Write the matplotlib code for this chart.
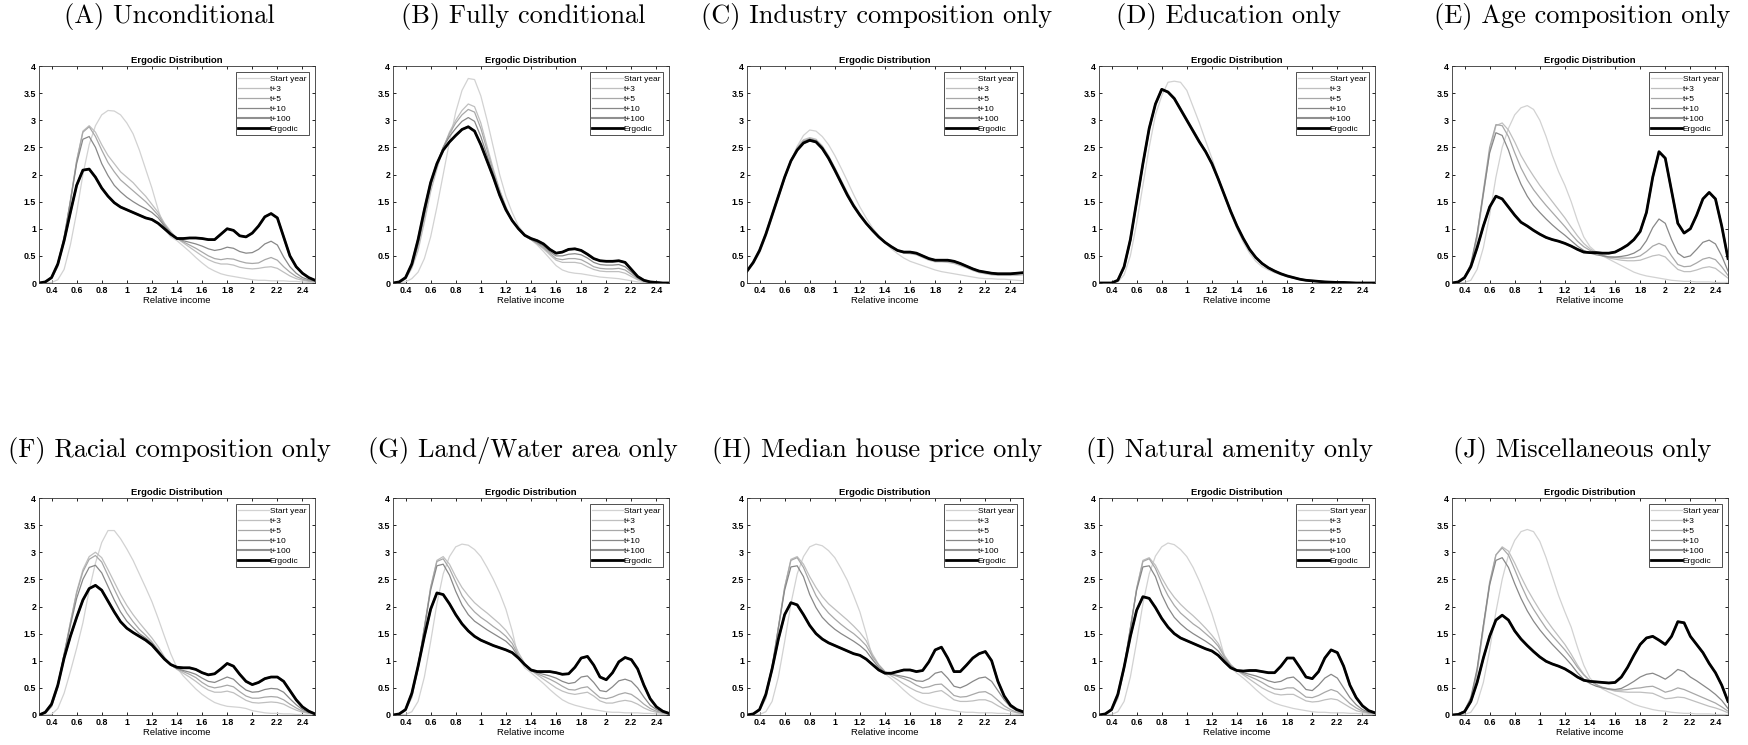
import matplotlib
matplotlib.use("Agg")
import matplotlib.pyplot as plt
from matplotlib.ticker import FormatStrFormatter

# relative income grid (x values shared by every curve)
income = [0.30, 0.35, 0.40, 0.45, 0.50, 0.55, 0.60, 0.65, 0.70, 0.75,
          0.80, 0.85, 0.90, 0.95, 1.00, 1.05, 1.10, 1.15, 1.20, 1.25,
          1.30, 1.35, 1.40, 1.45, 1.50, 1.55, 1.60, 1.65, 1.70, 1.75,
          1.80, 1.85, 1.90, 1.95, 2.00, 2.05, 2.10, 2.15, 2.20, 2.25,
          2.30, 2.35, 2.40, 2.45, 2.50]

legend_labels = ["Start year", "t+3", "t+5", "t+10", "t+100", "Ergodic"]

panel_titles = ["(A) Unconditional", "(B) Fully conditional", "(C) Industry composition only",
                "(D) Education only", "(E) Age composition only", "(F) Racial composition only",
                "(G) Land/Water area only", "(H) Median house price only",
                "(I) Natural amenity only", "(J) Miscellaneous only"]

# ---- (A) Unconditional
start_a = [0, 0, 0.01, 0.06, 0.25, 0.7, 1.3, 2.0, 2.55, 2.9, 3.1, 3.18, 3.17, 3.1, 2.95,
           2.75, 2.45, 2.1, 1.75, 1.35, 1.0, 0.85, 0.78, 0.68, 0.58, 0.47, 0.37, 0.28, 0.22, 0.17,
           0.14, 0.12, 0.1, 0.08, 0.06, 0.05, 0.05, 0.04, 0.04, 0.04, 0.03, 0.03, 0.02, 0.01, 0.01]
t3_a = [0, 0.01, 0.08, 0.3, 0.8, 1.5, 2.25, 2.8, 2.9, 2.78, 2.55, 2.35, 2.2, 2.05, 1.95,
        1.85, 1.72, 1.6, 1.45, 1.3, 1.1, 0.95, 0.82, 0.74, 0.66, 0.58, 0.5, 0.43, 0.38, 0.35,
        0.35, 0.33, 0.29, 0.27, 0.26, 0.27, 0.29, 0.3, 0.27, 0.2, 0.13, 0.08, 0.05, 0.03, 0.02]
t5_a = [0, 0.01, 0.09, 0.32, 0.82, 1.52, 2.25, 2.78, 2.88, 2.7, 2.45, 2.22, 2.05, 1.9, 1.8,
        1.7, 1.6, 1.5, 1.38, 1.25, 1.08, 0.93, 0.82, 0.76, 0.7, 0.64, 0.57, 0.5, 0.45, 0.43,
        0.45, 0.44, 0.4, 0.37, 0.36, 0.37, 0.43, 0.47, 0.42, 0.3, 0.2, 0.12, 0.07, 0.04, 0.03]
t10_a = [0, 0.02, 0.1, 0.35, 0.85, 1.5, 2.2, 2.65, 2.7, 2.5, 2.2, 1.98, 1.8, 1.68, 1.58,
         1.5, 1.43, 1.37, 1.3, 1.2, 1.05, 0.92, 0.82, 0.78, 0.75, 0.72, 0.68, 0.63, 0.6, 0.62,
         0.66, 0.64, 0.58, 0.55, 0.56, 0.62, 0.72, 0.77, 0.7, 0.48, 0.3, 0.18, 0.1, 0.06, 0.04]
erg_a = [0, 0.02, 0.1, 0.35, 0.78, 1.3, 1.8, 2.08, 2.1, 1.95, 1.75, 1.6, 1.48, 1.4, 1.35,
         1.3, 1.25, 1.2, 1.17, 1.1, 1.0, 0.9, 0.82, 0.82, 0.83, 0.83, 0.82, 0.8, 0.8, 0.9,
         1.0, 0.97, 0.87, 0.85, 0.92, 1.05, 1.22, 1.28, 1.2, 0.85, 0.5, 0.3, 0.18, 0.1, 0.05]

# ---- (B) Fully conditional
start_b = [0, 0.01, 0.02, 0.08, 0.2, 0.45, 0.85, 1.4, 2.0, 2.6, 3.15, 3.55, 3.77, 3.75, 3.45,
           3.0, 2.5, 2.0, 1.6, 1.3, 1.05, 0.9, 0.8, 0.7, 0.58, 0.45, 0.32, 0.24, 0.2, 0.18,
           0.17, 0.15, 0.13, 0.11, 0.1, 0.09, 0.08, 0.06, 0.04, 0.02, 0.01, 0, 0, 0, 0]
t3_b = [0, 0.01, 0.07, 0.27, 0.6, 1.12, 1.68, 2.1, 2.48, 2.78, 3.0, 3.18, 3.3, 3.25, 2.95,
        2.52, 2.1, 1.72, 1.4, 1.15, 1.0, 0.87, 0.8, 0.72, 0.63, 0.52, 0.42, 0.38, 0.38, 0.38,
        0.36, 0.3, 0.25, 0.22, 0.21, 0.21, 0.21, 0.18, 0.12, 0.06, 0.02, 0.01, 0, 0, 0]
t5_b = [0, 0.02, 0.08, 0.3, 0.68, 1.22, 1.77, 2.17, 2.5, 2.75, 2.95, 3.1, 3.2, 3.15, 2.85,
        2.45, 2.05, 1.7, 1.4, 1.15, 1.0, 0.87, 0.8, 0.73, 0.65, 0.55, 0.45, 0.43, 0.45, 0.45,
        0.43, 0.37, 0.3, 0.27, 0.26, 0.26, 0.27, 0.24, 0.16, 0.08, 0.03, 0.01, 0, 0, 0]
t10_b = [0, 0.02, 0.09, 0.32, 0.75, 1.3, 1.82, 2.2, 2.5, 2.7, 2.85, 2.98, 3.05, 2.98, 2.7,
         2.35, 2.0, 1.65, 1.37, 1.15, 1.0, 0.87, 0.8, 0.75, 0.68, 0.58, 0.5, 0.5, 0.53, 0.54,
         0.52, 0.46, 0.38, 0.34, 0.33, 0.33, 0.34, 0.3, 0.2, 0.1, 0.04, 0.02, 0.01, 0, 0]
erg_b = [0, 0.02, 0.1, 0.35, 0.8, 1.35, 1.85, 2.2, 2.45, 2.6, 2.72, 2.83, 2.88, 2.8, 2.55,
         2.25, 1.95, 1.62, 1.35, 1.15, 1.0, 0.88, 0.82, 0.78, 0.72, 0.62, 0.55, 0.57, 0.62, 0.63,
         0.6, 0.53, 0.45, 0.41, 0.4, 0.4, 0.41, 0.38, 0.25, 0.12, 0.05, 0.02, 0.01, 0, 0]

# ---- (C) Industry composition only
start_c = [0.2, 0.35, 0.55, 0.85, 1.2, 1.55, 1.92, 2.25, 2.52, 2.72, 2.82, 2.8, 2.7, 2.55, 2.35,
           2.12, 1.88, 1.63, 1.4, 1.2, 1.02, 0.87, 0.74, 0.63, 0.54, 0.46, 0.4, 0.36, 0.32, 0.28,
           0.24, 0.21, 0.19, 0.17, 0.15, 0.13, 0.11, 0.09, 0.08, 0.08, 0.07, 0.07, 0.06, 0.05, 0.04]
t3_c = [0.21, 0.37, 0.58, 0.88, 1.23, 1.58, 1.94, 2.26, 2.5, 2.64, 2.68, 2.65, 2.53, 2.35, 2.13,
        1.9, 1.67, 1.46, 1.28, 1.12, 0.98, 0.86, 0.75, 0.66, 0.59, 0.55, 0.54, 0.52, 0.47, 0.42,
        0.39, 0.39, 0.38, 0.36, 0.32, 0.28, 0.23, 0.19, 0.17, 0.15, 0.14, 0.14, 0.14, 0.14, 0.15]
t5_c = [0.21, 0.37, 0.59, 0.89, 1.24, 1.59, 1.94, 2.25, 2.48, 2.62, 2.66, 2.63, 2.51, 2.33, 2.11,
        1.88, 1.65, 1.44, 1.27, 1.11, 0.98, 0.86, 0.75, 0.67, 0.6, 0.56, 0.56, 0.54, 0.49, 0.44,
        0.41, 0.41, 0.4, 0.38, 0.34, 0.3, 0.25, 0.21, 0.19, 0.17, 0.16, 0.16, 0.16, 0.17, 0.18]
t10_c = [0.22, 0.38, 0.6, 0.9, 1.25, 1.6, 1.95, 2.25, 2.46, 2.6, 2.65, 2.62, 2.5, 2.32, 2.1,
         1.87, 1.64, 1.43, 1.26, 1.1, 0.97, 0.85, 0.75, 0.67, 0.6, 0.57, 0.57, 0.55, 0.5, 0.45,
         0.42, 0.42, 0.41, 0.39, 0.35, 0.31, 0.26, 0.22, 0.2, 0.18, 0.17, 0.17, 0.17, 0.18, 0.19]
erg_c = [0.22, 0.38, 0.6, 0.9, 1.25, 1.6, 1.95, 2.25, 2.45, 2.58, 2.63, 2.6, 2.48, 2.3, 2.08,
         1.85, 1.62, 1.42, 1.25, 1.1, 0.97, 0.85, 0.75, 0.67, 0.6, 0.57, 0.57, 0.55, 0.5, 0.45,
         0.42, 0.42, 0.42, 0.4, 0.36, 0.31, 0.26, 0.22, 0.2, 0.18, 0.17, 0.17, 0.17, 0.18, 0.19]

# ---- (D) Education only
start_d = [0, 0, 0, 0.02, 0.15, 0.5, 1.1, 1.8, 2.5, 3.1, 3.45, 3.7, 3.72, 3.7, 3.55,
           3.25, 2.95, 2.62, 2.3, 1.95, 1.6, 1.28, 1.0, 0.75, 0.55, 0.4, 0.3, 0.24, 0.19, 0.15,
           0.12, 0.09, 0.07, 0.05, 0.04, 0.03, 0.02, 0.02, 0.01, 0.01, 0.01, 0, 0, 0, 0]
t3_d = [0, 0, 0, 0.04, 0.26, 0.75, 1.45, 2.15, 2.8, 3.28, 3.56, 3.53, 3.42, 3.23, 3.03,
        2.83, 2.63, 2.44, 2.22, 1.93, 1.62, 1.31, 1.04, 0.81, 0.61, 0.46, 0.35, 0.27, 0.21, 0.16,
        0.12, 0.09, 0.07, 0.05, 0.04, 0.03, 0.02, 0.015, 0.01, 0.01, 0.005, 0, 0, 0, 0]
t5_d = [0, 0, 0, 0.05, 0.28, 0.78, 1.48, 2.18, 2.83, 3.29, 3.56, 3.52, 3.41, 3.21, 3.01,
        2.81, 2.61, 2.43, 2.21, 1.92, 1.62, 1.32, 1.05, 0.82, 0.62, 0.47, 0.36, 0.28, 0.22, 0.17,
        0.13, 0.1, 0.07, 0.05, 0.04, 0.03, 0.02, 0.015, 0.01, 0.01, 0.005, 0, 0, 0, 0]
t10_d = [0, 0, 0, 0.05, 0.3, 0.8, 1.5, 2.2, 2.85, 3.3, 3.57, 3.52, 3.4, 3.2, 3.0,
         2.8, 2.6, 2.42, 2.2, 1.92, 1.62, 1.32, 1.05, 0.82, 0.62, 0.47, 0.36, 0.28, 0.22, 0.17,
         0.13, 0.1, 0.07, 0.05, 0.04, 0.03, 0.02, 0.015, 0.01, 0.01, 0.005, 0, 0, 0, 0]
erg_d = [0, 0, 0, 0.05, 0.3, 0.8, 1.5, 2.2, 2.85, 3.3, 3.57, 3.52, 3.4, 3.2, 3.0,
         2.8, 2.6, 2.42, 2.2, 1.92, 1.62, 1.32, 1.05, 0.82, 0.62, 0.47, 0.36, 0.28, 0.22, 0.17,
         0.13, 0.1, 0.07, 0.05, 0.04, 0.03, 0.02, 0.015, 0.01, 0.01, 0.005, 0, 0, 0, 0]

# ---- (E) Age composition only
start_e = [0, 0, 0.01, 0.05, 0.25, 0.65, 1.25, 1.95, 2.5, 2.85, 3.1, 3.23, 3.27, 3.2, 3.0,
           2.7, 2.35, 2.05, 1.8, 1.5, 1.15, 0.85, 0.67, 0.57, 0.5, 0.44, 0.38, 0.32, 0.26, 0.2,
           0.16, 0.13, 0.11, 0.09, 0.07, 0.05, 0.04, 0.03, 0.03, 0.02, 0.02, 0.02, 0.01, 0.01, 0.01]
t3_e = [0, 0.01, 0.07, 0.28, 0.82, 1.62, 2.42, 2.9, 2.95, 2.82, 2.6, 2.35, 2.15, 1.97, 1.8,
        1.65, 1.5, 1.35, 1.2, 1.03, 0.87, 0.73, 0.63, 0.56, 0.5, 0.46, 0.44, 0.42, 0.41, 0.41,
        0.42, 0.46, 0.5, 0.52, 0.48, 0.36, 0.25, 0.21, 0.21, 0.24, 0.28, 0.3, 0.27, 0.18, 0.09]
t5_e = [0, 0.01, 0.08, 0.32, 0.88, 1.7, 2.5, 2.92, 2.9, 2.7, 2.4, 2.12, 1.9, 1.72, 1.57,
        1.43, 1.3, 1.17, 1.04, 0.9, 0.77, 0.67, 0.6, 0.55, 0.51, 0.48, 0.47, 0.46, 0.46, 0.47,
        0.5, 0.58, 0.68, 0.73, 0.68, 0.5, 0.34, 0.3, 0.31, 0.37, 0.44, 0.47, 0.43, 0.3, 0.14]
t10_e = [0, 0.02, 0.1, 0.35, 0.9, 1.65, 2.4, 2.77, 2.72, 2.45, 2.1, 1.82, 1.6, 1.43, 1.3,
         1.18, 1.07, 0.97, 0.88, 0.78, 0.68, 0.6, 0.55, 0.52, 0.5, 0.48, 0.48, 0.49, 0.51, 0.55,
         0.62, 0.78, 1.02, 1.18, 1.1, 0.8, 0.55, 0.47, 0.5, 0.62, 0.75, 0.79, 0.72, 0.5, 0.22]
erg_e = [0, 0.02, 0.1, 0.3, 0.65, 1.05, 1.4, 1.6, 1.55, 1.4, 1.25, 1.12, 1.05, 0.97, 0.9,
         0.84, 0.8, 0.77, 0.73, 0.68, 0.62, 0.57, 0.56, 0.56, 0.55, 0.55, 0.57, 0.63, 0.7, 0.8,
         0.95, 1.3, 1.95, 2.42, 2.3, 1.7, 1.1, 0.92, 1.0, 1.25, 1.55, 1.67, 1.55, 1.05, 0.45]

# ---- (F) Racial composition only
start_f = [0, 0, 0.01, 0.12, 0.4, 0.8, 1.23, 1.7, 2.3, 2.8, 3.18, 3.4, 3.4, 3.25, 3.06,
           2.85, 2.6, 2.35, 2.09, 1.78, 1.45, 1.13, 0.87, 0.72, 0.6, 0.48, 0.38, 0.3, 0.23, 0.19,
           0.16, 0.15, 0.14, 0.12, 0.08, 0.06, 0.04, 0.03, 0.03, 0.02, 0.02, 0.01, 0.01, 0, 0]
t3_f = [0, 0.03, 0.15, 0.5, 1.1, 1.7, 2.27, 2.68, 2.92, 3.0, 2.9, 2.68, 2.45, 2.22, 2.02,
        1.85, 1.7, 1.56, 1.42, 1.26, 1.07, 0.93, 0.84, 0.77, 0.7, 0.62, 0.53, 0.46, 0.42, 0.42,
        0.44, 0.41, 0.34, 0.27, 0.23, 0.22, 0.23, 0.24, 0.23, 0.2, 0.14, 0.09, 0.05, 0.03, 0.01]
t5_f = [0, 0.03, 0.16, 0.52, 1.12, 1.7, 2.25, 2.64, 2.87, 2.94, 2.82, 2.57, 2.32, 2.08, 1.88,
        1.72, 1.58, 1.47, 1.35, 1.2, 1.04, 0.92, 0.85, 0.8, 0.75, 0.69, 0.6, 0.53, 0.5, 0.52,
        0.55, 0.52, 0.43, 0.35, 0.31, 0.31, 0.33, 0.34, 0.33, 0.28, 0.2, 0.13, 0.07, 0.04, 0.02]
t10_f = [0, 0.04, 0.17, 0.55, 1.12, 1.65, 2.15, 2.5, 2.72, 2.76, 2.62, 2.37, 2.12, 1.9, 1.73,
         1.61, 1.5, 1.42, 1.32, 1.18, 1.03, 0.92, 0.86, 0.82, 0.79, 0.75, 0.68, 0.62, 0.6, 0.65,
         0.7, 0.66, 0.55, 0.46, 0.42, 0.43, 0.47, 0.49, 0.48, 0.42, 0.3, 0.19, 0.1, 0.05, 0.02]
erg_f = [0, 0.05, 0.2, 0.55, 1.05, 1.45, 1.8, 2.12, 2.33, 2.39, 2.3, 2.1, 1.9, 1.72, 1.6,
         1.52, 1.45, 1.38, 1.29, 1.16, 1.03, 0.93, 0.88, 0.87, 0.87, 0.84, 0.78, 0.74, 0.76, 0.85,
         0.95, 0.9, 0.75, 0.62, 0.56, 0.6, 0.67, 0.7, 0.7, 0.62, 0.45, 0.28, 0.15, 0.07, 0.02]

# ---- (G) Land/Water area only
start_g = [0, 0, 0.01, 0.06, 0.25, 0.7, 1.35, 2.05, 2.6, 2.92, 3.1, 3.15, 3.13, 3.05, 2.92,
           2.72, 2.5, 2.25, 1.95, 1.55, 1.05, 0.87, 0.78, 0.68, 0.58, 0.47, 0.37, 0.28, 0.22, 0.18,
           0.15, 0.12, 0.1, 0.08, 0.06, 0.05, 0.05, 0.04, 0.04, 0.04, 0.03, 0.03, 0.02, 0.01, 0.01]
t3_g = [0, 0.01, 0.08, 0.32, 0.85, 1.6, 2.35, 2.85, 2.92, 2.78, 2.55, 2.35, 2.2, 2.07, 1.97,
        1.88, 1.78, 1.68, 1.56, 1.4, 1.15, 0.95, 0.82, 0.74, 0.66, 0.58, 0.5, 0.44, 0.4, 0.38,
        0.4, 0.42, 0.35, 0.26, 0.22, 0.22, 0.25, 0.27, 0.25, 0.2, 0.13, 0.08, 0.05, 0.03, 0.02]
t5_g = [0, 0.01, 0.09, 0.34, 0.88, 1.62, 2.35, 2.83, 2.88, 2.7, 2.45, 2.2, 2.03, 1.9, 1.8,
        1.72, 1.63, 1.55, 1.45, 1.32, 1.1, 0.93, 0.82, 0.76, 0.71, 0.66, 0.6, 0.53, 0.47, 0.46,
        0.5, 0.52, 0.42, 0.32, 0.3, 0.33, 0.38, 0.41, 0.38, 0.3, 0.2, 0.12, 0.07, 0.04, 0.02]
t10_g = [0, 0.02, 0.1, 0.37, 0.9, 1.6, 2.3, 2.75, 2.78, 2.58, 2.28, 2.03, 1.85, 1.73, 1.65,
         1.57, 1.5, 1.43, 1.36, 1.25, 1.07, 0.92, 0.82, 0.78, 0.75, 0.72, 0.68, 0.62, 0.58, 0.6,
         0.7, 0.72, 0.6, 0.45, 0.43, 0.52, 0.63, 0.66, 0.62, 0.5, 0.33, 0.18, 0.1, 0.05, 0.02]
erg_g = [0, 0.02, 0.1, 0.4, 0.9, 1.45, 1.95, 2.25, 2.22, 2.05, 1.85, 1.68, 1.55, 1.45, 1.38,
         1.33, 1.28, 1.24, 1.2, 1.15, 1.05, 0.93, 0.83, 0.8, 0.8, 0.8, 0.78, 0.75, 0.76, 0.88,
         1.05, 1.08, 0.92, 0.7, 0.65, 0.78, 0.98, 1.06, 1.02, 0.85, 0.55, 0.3, 0.15, 0.07, 0.03]

# ---- (H) Median house price only
start_h = [0, 0, 0.01, 0.06, 0.25, 0.7, 1.35, 2.05, 2.6, 2.92, 3.1, 3.15, 3.12, 3.03, 2.9,
           2.7, 2.48, 2.2, 1.9, 1.5, 1.05, 0.85, 0.76, 0.67, 0.57, 0.46, 0.36, 0.28, 0.22, 0.18,
           0.15, 0.12, 0.1, 0.08, 0.06, 0.05, 0.05, 0.04, 0.04, 0.04, 0.03, 0.03, 0.02, 0.01, 0.01]
t3_h = [0, 0.01, 0.08, 0.3, 0.83, 1.6, 2.35, 2.87, 2.92, 2.78, 2.55, 2.35, 2.18, 2.05, 1.95,
        1.85, 1.75, 1.64, 1.52, 1.37, 1.12, 0.93, 0.8, 0.72, 0.65, 0.57, 0.5, 0.44, 0.4, 0.4,
        0.43, 0.45, 0.37, 0.28, 0.25, 0.25, 0.26, 0.28, 0.28, 0.24, 0.17, 0.11, 0.07, 0.04, 0.02]
t5_h = [0, 0.01, 0.09, 0.33, 0.86, 1.62, 2.35, 2.85, 2.9, 2.72, 2.45, 2.2, 2.02, 1.88, 1.77,
        1.67, 1.58, 1.5, 1.4, 1.28, 1.08, 0.92, 0.8, 0.75, 0.71, 0.67, 0.62, 0.55, 0.5, 0.52,
        0.56, 0.57, 0.47, 0.36, 0.33, 0.34, 0.38, 0.42, 0.43, 0.37, 0.27, 0.17, 0.1, 0.05, 0.03]
t10_h = [0, 0.02, 0.1, 0.36, 0.9, 1.6, 2.3, 2.73, 2.75, 2.55, 2.22, 1.98, 1.8, 1.68, 1.58,
         1.5, 1.43, 1.36, 1.28, 1.18, 1.02, 0.88, 0.78, 0.75, 0.73, 0.71, 0.68, 0.63, 0.62, 0.67,
         0.77, 0.8, 0.68, 0.53, 0.5, 0.55, 0.62, 0.68, 0.7, 0.62, 0.45, 0.28, 0.15, 0.08, 0.04]
erg_h = [0, 0.02, 0.1, 0.38, 0.85, 1.4, 1.85, 2.07, 2.03, 1.85, 1.65, 1.5, 1.4, 1.33, 1.28,
         1.23, 1.18, 1.13, 1.1, 1.03, 0.93, 0.83, 0.77, 0.77, 0.8, 0.83, 0.83, 0.8, 0.82, 0.98,
         1.2, 1.25, 1.05, 0.8, 0.8, 0.92, 1.05, 1.13, 1.17, 1.0, 0.62, 0.35, 0.18, 0.1, 0.06]

# ---- (I) Natural amenity only
start_i = [0, 0, 0.01, 0.06, 0.25, 0.7, 1.35, 2.05, 2.6, 2.93, 3.1, 3.17, 3.14, 3.05, 2.92,
           2.72, 2.47, 2.18, 1.87, 1.5, 1.08, 0.87, 0.77, 0.68, 0.58, 0.47, 0.37, 0.28, 0.22, 0.18,
           0.15, 0.12, 0.1, 0.08, 0.06, 0.05, 0.05, 0.04, 0.04, 0.04, 0.03, 0.03, 0.02, 0.01, 0.01]
t3_i = [0, 0.01, 0.08, 0.3, 0.83, 1.58, 2.33, 2.85, 2.9, 2.76, 2.53, 2.33, 2.17, 2.04, 1.93,
        1.83, 1.72, 1.6, 1.47, 1.32, 1.1, 0.93, 0.82, 0.74, 0.66, 0.58, 0.5, 0.44, 0.39, 0.37,
        0.38, 0.38, 0.32, 0.26, 0.24, 0.25, 0.28, 0.3, 0.28, 0.21, 0.14, 0.08, 0.05, 0.03, 0.02]
t5_i = [0, 0.01, 0.09, 0.33, 0.86, 1.6, 2.33, 2.83, 2.88, 2.7, 2.43, 2.2, 2.02, 1.88, 1.78,
        1.68, 1.6, 1.5, 1.4, 1.27, 1.07, 0.92, 0.82, 0.76, 0.71, 0.66, 0.6, 0.53, 0.48, 0.47,
        0.5, 0.5, 0.42, 0.33, 0.32, 0.36, 0.42, 0.47, 0.43, 0.32, 0.21, 0.13, 0.07, 0.04, 0.03]
t10_i = [0, 0.02, 0.1, 0.36, 0.9, 1.6, 2.3, 2.73, 2.75, 2.55, 2.22, 1.98, 1.8, 1.68, 1.58,
         1.5, 1.43, 1.36, 1.28, 1.18, 1.03, 0.9, 0.82, 0.78, 0.75, 0.72, 0.68, 0.63, 0.6, 0.62,
         0.68, 0.7, 0.6, 0.47, 0.45, 0.55, 0.68, 0.75, 0.68, 0.5, 0.32, 0.19, 0.1, 0.05, 0.03]
erg_i = [0, 0.02, 0.1, 0.38, 0.88, 1.45, 1.93, 2.18, 2.15, 1.98, 1.78, 1.62, 1.5, 1.42, 1.37,
         1.32, 1.27, 1.22, 1.18, 1.1, 0.98, 0.87, 0.82, 0.81, 0.82, 0.82, 0.8, 0.78, 0.78, 0.9,
         1.05, 1.05, 0.88, 0.7, 0.67, 0.8, 1.05, 1.2, 1.15, 0.9, 0.55, 0.32, 0.17, 0.08, 0.04]

# ---- (J) Miscellaneous only
start_j = [0, 0, 0.01, 0.05, 0.22, 0.6, 1.2, 1.9, 2.5, 2.95, 3.22, 3.38, 3.42, 3.38, 3.2,
           2.9, 2.55, 2.2, 1.9, 1.62, 1.25, 0.92, 0.68, 0.56, 0.48, 0.42, 0.37, 0.32, 0.26, 0.2,
           0.16, 0.13, 0.1, 0.08, 0.07, 0.05, 0.04, 0.03, 0.03, 0.02, 0.02, 0.02, 0.01, 0.01, 0.01]
t3_j = [0, 0.01, 0.06, 0.26, 0.78, 1.58, 2.4, 2.95, 3.1, 3.02, 2.8, 2.55, 2.32, 2.12, 1.93,
        1.76, 1.6, 1.45, 1.3, 1.12, 0.92, 0.75, 0.63, 0.56, 0.5, 0.47, 0.44, 0.43, 0.42, 0.42,
        0.42, 0.41, 0.4, 0.35, 0.3, 0.31, 0.33, 0.32, 0.28, 0.24, 0.2, 0.16, 0.13, 0.09, 0.04]
t5_j = [0, 0.01, 0.07, 0.29, 0.82, 1.65, 2.45, 2.95, 3.08, 2.95, 2.68, 2.4, 2.15, 1.95, 1.77,
        1.6, 1.46, 1.33, 1.2, 1.05, 0.88, 0.74, 0.63, 0.56, 0.51, 0.48, 0.46, 0.46, 0.47, 0.49,
        0.5, 0.52, 0.53, 0.48, 0.42, 0.45, 0.5, 0.47, 0.42, 0.37, 0.32, 0.27, 0.22, 0.15, 0.07]
t10_j = [0, 0.02, 0.08, 0.32, 0.85, 1.65, 2.4, 2.85, 2.9, 2.72, 2.42, 2.15, 1.92, 1.73, 1.57,
         1.43, 1.3, 1.18, 1.06, 0.93, 0.78, 0.66, 0.58, 0.53, 0.5, 0.48, 0.47, 0.49, 0.55, 0.62,
         0.7, 0.75, 0.77, 0.72, 0.66, 0.74, 0.84, 0.8, 0.7, 0.63, 0.55, 0.47, 0.38, 0.27, 0.12]
erg_j = [0, 0.01, 0.06, 0.25, 0.6, 1.05, 1.45, 1.75, 1.84, 1.75, 1.55, 1.4, 1.28, 1.17, 1.07,
         0.99, 0.94, 0.9, 0.85, 0.78, 0.7, 0.64, 0.62, 0.61, 0.6, 0.59, 0.6, 0.7, 0.88, 1.1,
         1.3, 1.42, 1.45, 1.38, 1.3, 1.45, 1.72, 1.7, 1.45, 1.3, 1.15, 0.95, 0.78, 0.55, 0.25]

# t+100 sits right under the ergodic line in every panel
curves = [
    (start_a, t3_a, t5_a, t10_a, erg_a, erg_a),
    (start_b, t3_b, t5_b, t10_b, erg_b, erg_b),
    (start_c, t3_c, t5_c, t10_c, erg_c, erg_c),
    (start_d, t3_d, t5_d, t10_d, erg_d, erg_d),
    (start_e, t3_e, t5_e, t10_e, erg_e, erg_e),
    (start_f, t3_f, t5_f, t10_f, erg_f, erg_f),
    (start_g, t3_g, t5_g, t10_g, erg_g, erg_g),
    (start_h, t3_h, t5_h, t10_h, erg_h, erg_h),
    (start_i, t3_i, t5_i, t10_i, erg_i, erg_i),
    (start_j, t3_j, t5_j, t10_j, erg_j, erg_j),
]

line_colors = ["#d2d2d2", "#bfbfbf", "#a8a8a8", "#888888", "#8f8f8f", "#000000"]
line_widths = [0.9, 0.9, 0.9, 0.9, 1.5, 2.0]

W, H = 1749, 745
fig = plt.figure(figsize=(W / 100, H / 100), dpi=100)

col_left = [39, 393, 747, 1099, 1452]
row_top = [66, 498]
ax_w, ax_h = 276, 217
title_y = [17, 450]

for k, (ttl, series) in enumerate(zip(panel_titles, curves)):
    r, c = divmod(k, 5)
    x0 = col_left[c]
    y0 = row_top[r]
    ax = fig.add_axes([x0 / W, 1 - (y0 + ax_h) / H, ax_w / W, ax_h / H])
    for ys, lab, col, lw in zip(series, legend_labels, line_colors, line_widths):
        ax.plot(income, ys, color=col, lw=lw, label=lab, solid_joinstyle="round")
    ax.set_xlim(0.3, 2.5)
    ax.set_ylim(0, 4)
    ax.set_xticks([0.4, 0.6, 0.8, 1.0, 1.2, 1.4, 1.6, 1.8, 2.0, 2.2, 2.4])
    ax.set_yticks([0, 0.5, 1, 1.5, 2, 2.5, 3, 3.5, 4])
    ax.xaxis.set_major_formatter(FormatStrFormatter("%g"))
    ax.yaxis.set_major_formatter(FormatStrFormatter("%g"))
    ax.tick_params(direction="in", top=True, right=True, length=2.5, width=0.6,
                   labelsize=6.4, pad=2)
    for lbl in ax.get_xticklabels() + ax.get_yticklabels():
        lbl.set_fontweight("bold")
        lbl.set_family("Liberation Sans")
    for sp in ax.spines.values():
        sp.set_linewidth(0.6)
        sp.set_color("#333333")
    ax.set_title("Ergodic Distribution", fontsize=6.8, fontweight="bold",
                 family="Liberation Sans", pad=2)
    ax.set_xlabel("Relative income", fontsize=6.8, family="Liberation Sans", labelpad=1)
    leg = ax.legend(loc="upper right", prop={"family": "Liberation Sans", "size": 6},
                    frameon=True, fancybox=False, edgecolor="#333333", framealpha=1,
                    handlelength=3.7, handletextpad=0.1, labelspacing=0.26,
                    borderpad=0.3, borderaxespad=0.75)
    leg.get_frame().set_linewidth(0.6)

    fig.text((x0 + ax_w / 2 - 8) / W, 1 - title_y[r] / H, ttl, family="cmr10",
             fontsize=19, ha="center", va="center")

fig.savefig("out.png", dpi=100)
